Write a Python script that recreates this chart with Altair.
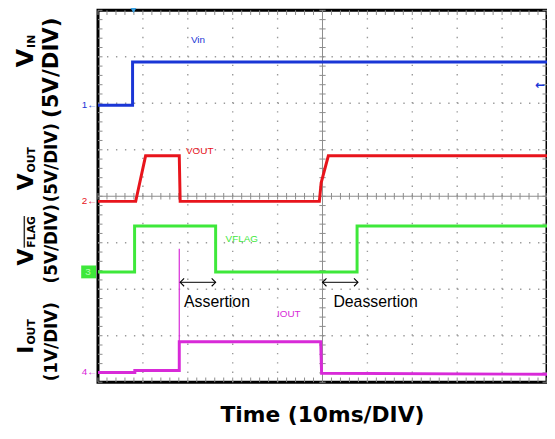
import altair as alt
import numpy as np
import pandas as pd

# ---------------- data (time in ms, 10 ms/div; levels in channel units) -------------
vin_t = [0, 7.7, 7.7, 100]
vin_v = [0, 0, 4.65, 4.65]

vout_t = [0, 8.4, 10.6, 18.1, 18.3, 49.3, 49.7, 51.3, 100]
vout_v = [0, 0, 4.9, 4.9, 0, 0, 2.0, 4.9, 4.9]

vflag_t = [0, 8.15, 8.15, 26.2, 26.2, 57.7, 57.7, 100]
vflag_v = [0, 0, 4.95, 4.95, 0, 0, 4.95, 4.95]

iout_t = [0, 8.2, 8.2, 18.1, 18.1, 49.6, 49.8, 100]
iout_v = [0, 0, 0.04, 0.04, 0.66, 0.66, -0.02, -0.04]

spike_t = [18.1]
spike_lo = [0.04]
spike_hi = [2.66]

channels = ["Vin", "Vout", "Vflag", "Iout"]
ch_ground = [5.96, 3.89, 2.37, 0.21]     # ground marker position (div)
ch_scale = [5, 5, 5, 1]                   # units per division
ch_color = ["#1a36d6", "#e8141c", "#3ee83a", "#d82ad8"]
ch_label_color = ["#4c5cb0", "#b83434", "#5cc84c", "#c444c4"]

# ---------------- helpers to place annotations in reference pixel terms ----------
W, H = 454, 376
def X(px):
    return (px - 99) / W * 100.0
def Y(py):
    return (383 - py) / H * 8.0

xs = alt.Scale(domain=[0, 100], nice=False, zero=False)
ys = alt.Scale(domain=[0, 8], nice=False, zero=False)

# ---------------- traces ----------------
rows = []
for name, ts, vs, g, s in zip(channels, [vin_t, vout_t, vflag_t, iout_t],
                              [vin_v, vout_v, vflag_v, iout_v], ch_ground, ch_scale):
    for i, (t, v) in enumerate(zip(ts, vs)):
        rows.append({"t": t, "y": g + v / s, "ch": name, "o": i})
traces = pd.DataFrame(rows)

trace_layer = alt.Chart(traces).mark_line(strokeWidth=3, interpolate="linear").encode(
    x=alt.X("t:Q", scale=xs, axis=None),
    y=alt.Y("y:Q", scale=ys, axis=None),
    color=alt.Color("ch:N", scale=alt.Scale(domain=channels, range=ch_color), legend=None),
    order="o:Q",
)

spike = pd.DataFrame({"t": spike_t,
                      "y": [ch_ground[3] + v / ch_scale[3] for v in spike_lo],
                      "y2": [ch_ground[3] + v / ch_scale[3] for v in spike_hi]})
spike_layer = alt.Chart(spike).mark_rule(color=ch_color[3], strokeWidth=1.2).encode(
    x=alt.X("t:Q", scale=xs, axis=None), y=alt.Y("y:Q", scale=ys, axis=None), y2="y2:Q")

# ---------------- graticule ----------------
vdot = pd.DataFrame({"x": [10, 20, 30, 40, 60, 70, 80, 90], "y": 0, "y2": 8})
hdot = pd.DataFrame({"y": [1, 2, 3, 5, 6, 7], "x": 0, "x2": 100})
vdot_layer = alt.Chart(vdot).mark_rule(color="#9a9a9a", strokeWidth=1.4, strokeDash=[1.4, 8.0]).encode(
    x=alt.X("x:Q", scale=xs, axis=None), y=alt.Y("y:Q", scale=ys, axis=None), y2="y2:Q")
hdot_layer = alt.Chart(hdot).mark_rule(color="#9a9a9a", strokeWidth=1.4, strokeDash=[1.4, 7.68]).encode(
    x=alt.X("x:Q", scale=xs, axis=None), x2="x2:Q", y=alt.Y("y:Q", scale=ys, axis=None))

seg = []
seg.append((50, 50, 0, 8))
seg.append((0, 100, 4, 4))
ty = np.round(np.arange(0, 8.001, 0.2), 3)
tx = np.round(np.arange(0, 100.001, 2), 3)
for yv in ty:
    seg.append((50 - 0.7, 50 + 0.7, yv, yv))     # center vertical line ticks
    seg.append((0, 1.0, yv, yv))                  # left edge
    seg.append((99.0, 100, yv, yv))               # right edge
for xv in tx:
    seg.append((xv, xv, 4 - 0.07, 4 + 0.07))     # center horizontal line ticks
    seg.append((xv, xv, 8, 7.9))                  # top edge
    seg.append((xv, xv, 0, 0.1))                  # bottom edge
grat = pd.DataFrame(seg, columns=["x", "x2", "y", "y2"])
grat_layer = alt.Chart(grat).mark_rule(color="#8c8c8c", strokeWidth=1).encode(
    x=alt.X("x:Q", scale=xs, axis=None), x2="x2:Q",
    y=alt.Y("y:Q", scale=ys, axis=None), y2="y2:Q")

# ---------------- trace name labels ----------------
tl = pd.DataFrame({
    "x": [X(193), X(188), X(228), X(280)],
    "y": [Y(40), Y(152), Y(241), Y(317)],
    "text": ["Vin", "VOUT", "VFLAG", "IOUT"],
    "ch": channels,
})
tl_layer = alt.Chart(tl).mark_text(font="Liberation Sans", fontSize=10, align="left",
                                   baseline="alphabetic").encode(
    x=alt.X("x:Q", scale=xs, axis=None), y=alt.Y("y:Q", scale=ys, axis=None), text="text:N",
    color=alt.Color("ch:N", scale=alt.Scale(domain=channels, range=ch_label_color), legend=None))

# ---------------- channel ground markers ----------------
gm = pd.DataFrame({"x": [X(98)] * 4, "y": ch_ground, "text": ["1←", "2←", "", "4←"], "ch": channels})
gm_layer = alt.Chart(gm).mark_text(font="Liberation Sans", fontSize=10, align="right",
                                   baseline="middle").encode(
    x=alt.X("x:Q", scale=xs, axis=None), y=alt.Y("y:Q", scale=ys, axis=None), text="text:N",
    color=alt.Color("ch:N", scale=alt.Scale(domain=channels, range=ch_color), legend=None))
box3 = pd.DataFrame({"x": [X(82)], "x2": [X(97)], "y": [Y(278)], "y2": [Y(265)]})
box3_layer = alt.Chart(box3).mark_rect(color=ch_color[2]).encode(
    x=alt.X("x:Q", scale=xs, axis=None), x2="x2:Q", y=alt.Y("y:Q", scale=ys, axis=None), y2="y2:Q")
box3_txt = pd.DataFrame({"x": [X(89)], "y": [ch_ground[2]], "text": ["3"]})
box3_txt_layer = alt.Chart(box3_txt).mark_text(font="Liberation Sans", fontSize=10, color="#b8ffb0",
                                               baseline="middle").encode(
    x=alt.X("x:Q", scale=xs, axis=None), y=alt.Y("y:Q", scale=ys, axis=None), text="text:N")

trig = pd.DataFrame({"x": [7.9], "y": [8]})
trig_layer = alt.Chart(trig).mark_point(shape="triangle-down", filled=True, size=40,
                                        color="#3aa0e0", opacity=1).encode(
    x=alt.X("x:Q", scale=xs, axis=None), y=alt.Y("y:Q", scale=ys, axis=None))
lvl = pd.DataFrame({"x": [99.6], "y": [Y(83)], "text": ["←"]})
lvl_layer = alt.Chart(lvl).mark_text(font="DejaVu Sans", fontSize=12, fontWeight="bold",
                                     color=ch_color[0], align="right", baseline="middle").encode(
    x=alt.X("x:Q", scale=xs, axis=None), y=alt.Y("y:Q", scale=ys, axis=None), text="text:N")

# ---------------- assertion arrows ----------------
arr = pd.DataFrame({"x": [18.3, 50.0], "x2": [26.2, 57.9], "y": [Y(282)] * 2})
arr_layer = alt.Chart(arr).mark_rule(color="black", strokeWidth=1).encode(
    x=alt.X("x:Q", scale=xs, axis=None), x2="x2:Q", y=alt.Y("y:Q", scale=ys, axis=None))
arr_l = alt.Chart(arr).mark_point(shape="M 1 -1 L 0 0 L 1 1", filled=False, size=64,
                                  color="black", strokeWidth=1.1, opacity=1).encode(
    x=alt.X("x:Q", scale=xs, axis=None), y=alt.Y("y:Q", scale=ys, axis=None))
arr_r = alt.Chart(arr).mark_point(shape="M -1 -1 L 0 0 L -1 1", filled=False, size=64,
                                  color="black", strokeWidth=1.1, opacity=1).encode(
    x=alt.X("x2:Q", scale=xs, axis=None), y=alt.Y("y:Q", scale=ys, axis=None))
at = pd.DataFrame({"x": [X(186), X(337)], "y": [Y(307)] * 2, "text": ["Assertion", "Deassertion"]})
at_layer = alt.Chart(at).mark_text(font="Liberation Sans", fontSize=16, align="left",
                                   baseline="alphabetic", color="black").encode(
    x=alt.X("x:Q", scale=xs, axis=None), y=alt.Y("y:Q", scale=ys, axis=None), text="text:N")

# ---------------- axis titles (rotated, with subscripts) ----------------
main = pd.DataFrame({"x": [X(33)] * 4, "y": [Y(46), Y(172), Y(248), Y(346)],
                     "text": ["V", "V", "V", "I"], "fs": [24, 22, 22, 22]})
sub = pd.DataFrame({"x": [X(35)] * 4, "y": [Y(45), Y(171), Y(247), Y(345)],
                    "text": ["IN", "OUT", "FLAG", "OUT"]})
unit = pd.DataFrame({"x": [X(53)] * 4, "y": [Y(65), Y(161), Y(243), Y(342)],
                     "text": ["(5V/DIV)", "(5V/DIV)", "(5V/DIV)", "(1V/DIV)"],
                     "fs": [21.5, 17, 17, 17]})
main_layer = alt.Chart(main).mark_text(font="DejaVu Sans", fontWeight="bold", angle=270,
                                       align="right", baseline="alphabetic", color="black").encode(
    x=alt.X("x:Q", scale=xs, axis=None), y=alt.Y("y:Q", scale=ys, axis=None), text="text:N",
    size=alt.Size("fs:Q", scale=None, legend=None))
sub_layer = alt.Chart(sub).mark_text(font="DejaVu Sans", fontWeight="bold", fontSize=11, angle=270,
                                     align="left", baseline="alphabetic", color="black").encode(
    x=alt.X("x:Q", scale=xs, axis=None), y=alt.Y("y:Q", scale=ys, axis=None), text="text:N")
unit_layer = alt.Chart(unit).mark_text(font="DejaVu Sans", fontWeight="bold", angle=270,
                                       align="center", baseline="middle", color="black").encode(
    x=alt.X("x:Q", scale=xs, axis=None), y=alt.Y("y:Q", scale=ys, axis=None), text="text:N",
    size=alt.Size("fs:Q", scale=None, legend=None))
ovl = pd.DataFrame({"x": [X(24.5)], "y": [Y(247)], "y2": [Y(215)]})
ovl_layer = alt.Chart(ovl).mark_rule(color="#333333", strokeWidth=1.5).encode(
    x=alt.X("x:Q", scale=xs, axis=None), y=alt.Y("y:Q", scale=ys, axis=None), y2="y2:Q")

xt = pd.DataFrame({"x": [50], "y": [Y(423)], "text": ["Time (10ms/DIV)"]})
xt_layer = alt.Chart(xt).mark_text(font="DejaVu Sans", fontWeight="bold", fontSize=22,
                                   align="center", baseline="alphabetic", color="black").encode(
    x=alt.X("x:Q", scale=xs, axis=None), y=alt.Y("y:Q", scale=ys, axis=None), text="text:N")

chart = alt.layer(
    vdot_layer, hdot_layer, grat_layer,
    trace_layer, spike_layer, tl_layer,
    box3_layer, box3_txt_layer, gm_layer, trig_layer, lvl_layer,
    arr_layer, arr_l, arr_r, at_layer,
    main_layer, sub_layer, unit_layer, ovl_layer, xt_layer,
).properties(
    width=W, height=H,
    autosize=alt.AutoSizeParams(type="none"),
    padding={"left": 91, "top": 0, "right": 0, "bottom": 47},
    background="white",
).configure_view(stroke="black", strokeWidth=3)

chart.save("out.html", embed_options={"renderer": "svg", "actions": False})
